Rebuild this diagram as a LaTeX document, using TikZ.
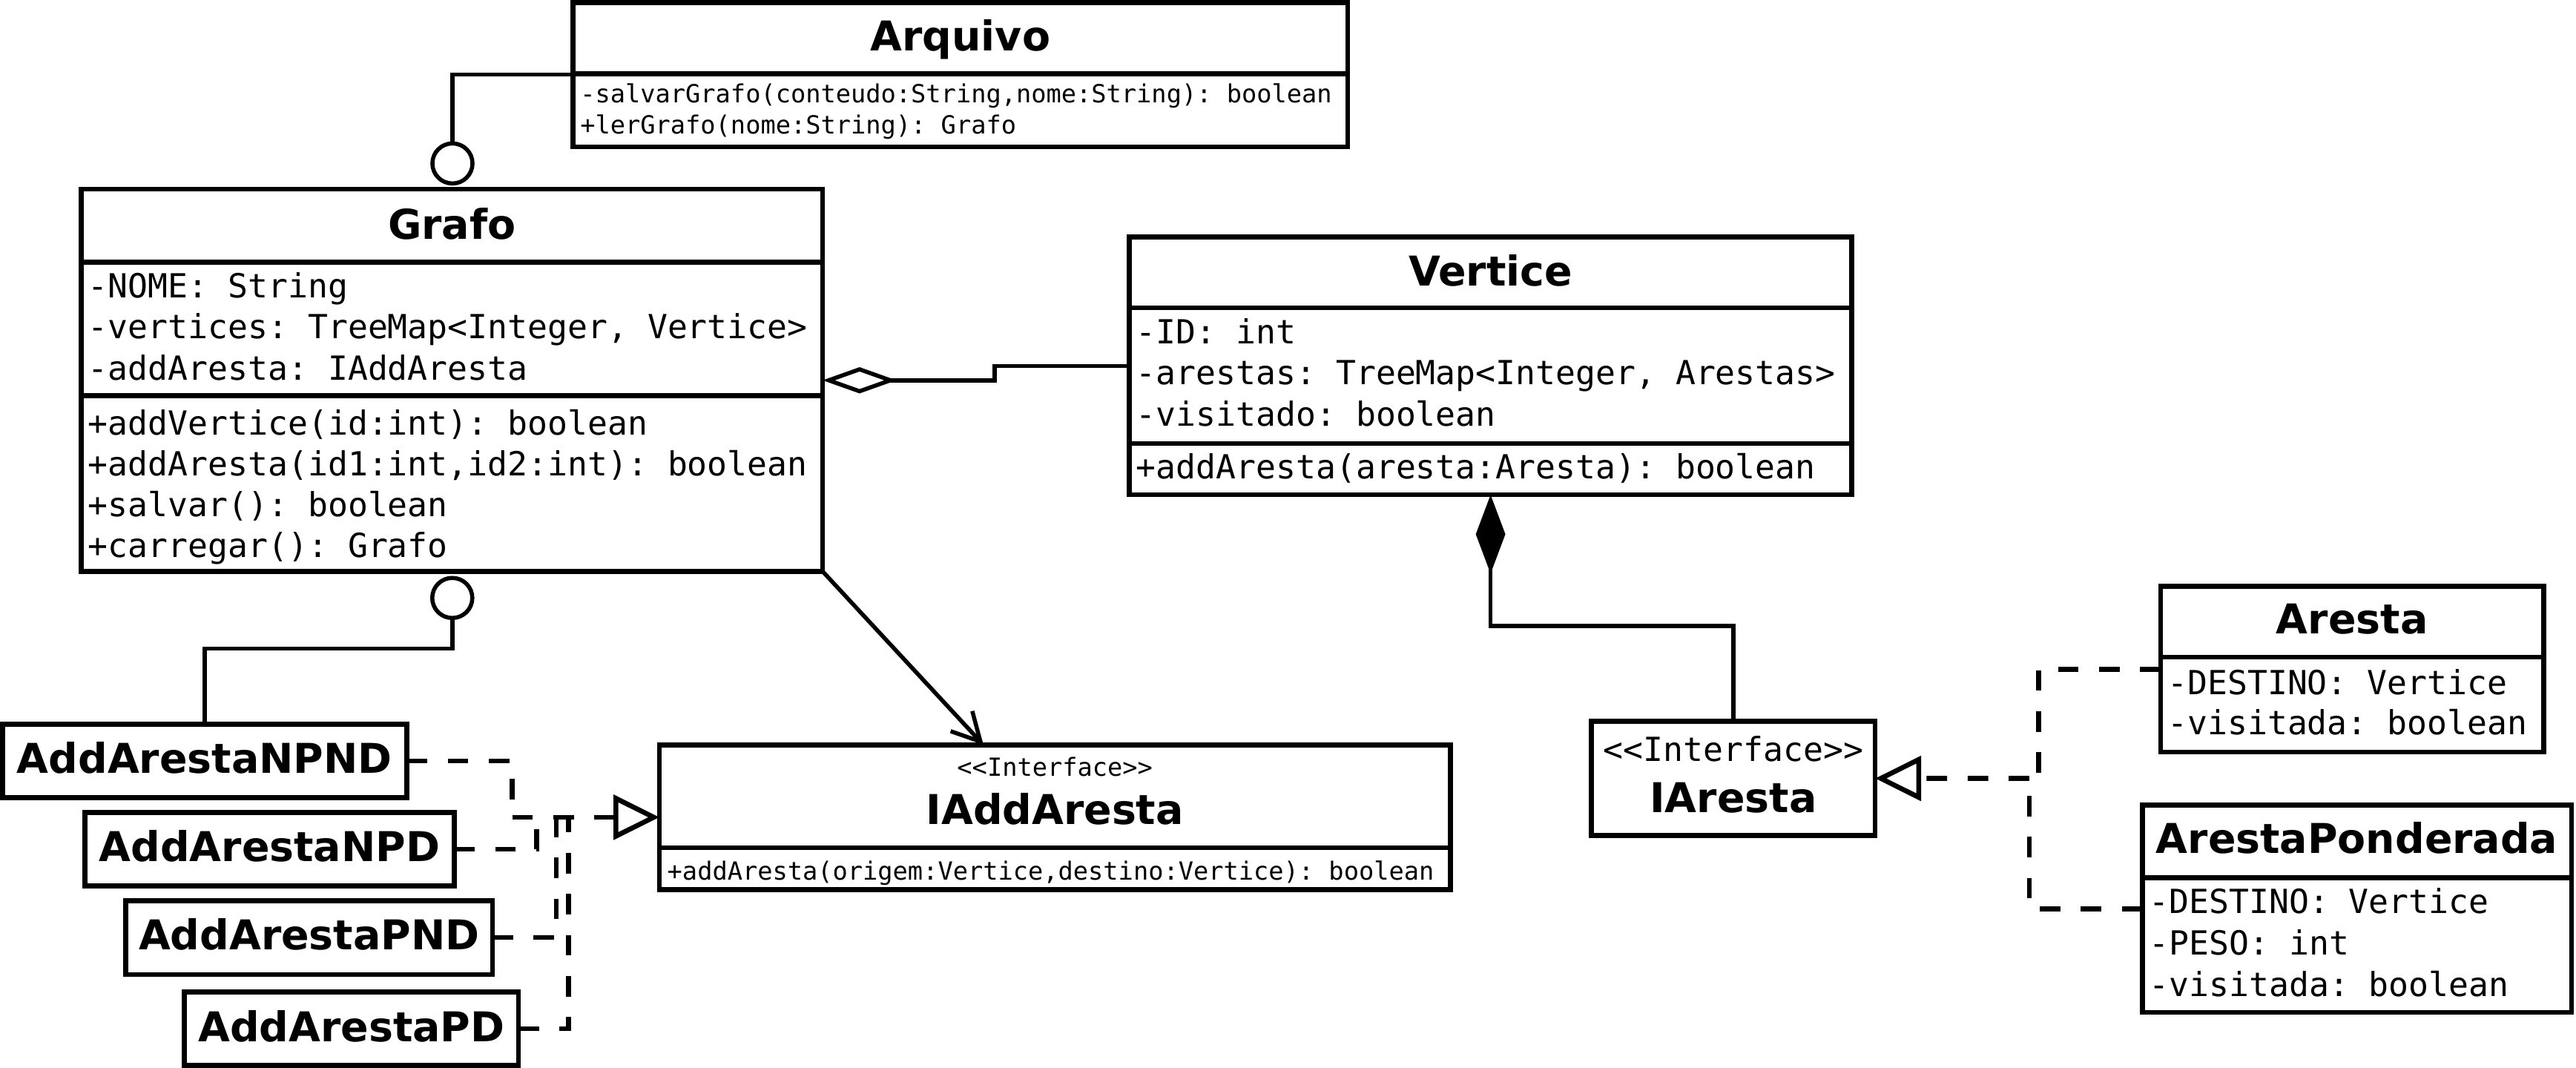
\documentclass[tikz,border=0pt]{standalone}
\usepackage{fontspec}
\setmainfont{DejaVu Sans}
\setmonofont{DejaVu Sans Mono}
\usetikzlibrary{arrows.meta}
\tikzset{
  box/.style={draw, line width=3pt, rectangle, inner sep=0pt, outer sep=0pt, anchor=north west},
  divider/.style={line width=3pt},
  title/.style={font=\fontsize{25}{30}\selectfont\bfseries, inner sep=0pt, anchor=base},
  mono/.style={font=\fontsize{20.2}{24}\selectfont\ttfamily, inner sep=0pt, anchor=base west},
  monoc/.style={font=\fontsize{20.2}{24}\selectfont\ttfamily, inner sep=0pt, anchor=base},
  monosm/.style={font=\fontsize{15.2}{18}\selectfont\ttfamily, inner sep=0pt, anchor=base west},
  monosmb/.style={font=\fontsize{15.2}{18}\selectfont\ttfamily, inner sep=0pt, anchor=base west},
  monosmc/.style={font=\fontsize{15.2}{18}\selectfont\ttfamily, inner sep=0pt, anchor=base},
  conn/.style={line width=2.5pt},
  real/.style={line width=3pt, dash pattern=on 12.5pt off 12.5pt},
  lolli/.style={draw, circle, line width=2.5pt, minimum size=24.4pt, inner sep=0pt, outer sep=0pt, fill=white},
}
\newcommand\umlbox[5]{\node[box, minimum width={#4pt-#2pt}, minimum height={#5pt-#3pt}] (#1) at (#2,#3) {};}
\begin{document}
\begin{tikzpicture}[x=1pt,y=-1pt]
\useasboundingbox (0,0) rectangle (1568,650.13);

% ---------- Arquivo
\umlbox{Arquivo}{348.9}{1.5}{820.3}{89.4}
\draw[divider] (348.9,44.9) -- (820.3,44.9);
\node[title] (tArq) at (584.6,31.1) {Arquivo};
\node[monosm] (aArq1) at (353,62.5) {-salvarGrafo(conteudo:String,nome:String): boolean};
\node[monosm] (aArq2) at (353,81.3) {+lerGrafo(nome:String): Grafo};

% ---------- Grafo
\umlbox{Grafo}{49.5}{115.2}{500.7}{347.8}
\draw[divider] (49.5,159.5) -- (500.7,159.5);
\draw[divider] (49.5,240.8) -- (500.7,240.8);
\node[title] (tGr) at (275.1,145.7) {Grafo};
\node[mono] (aGr1) at (53.5,181.3) {-NOME: String};
\node[mono] (aGr2) at (53.5,206.2) {-vertices: TreeMap<Integer, Vertice>};
\node[mono] (aGr3) at (53.5,231.5) {-addAresta: IAddAresta};
\node[mono] (mGr1) at (53.5,264.9) {+addVertice(id:int): boolean};
\node[mono] (mGr2) at (53.5,289.7) {+addAresta(id1:int,id2:int): boolean};
\node[mono] (mGr3) at (53.5,314.5) {+salvar(): boolean};
\node[mono] (mGr4) at (53.5,339.4) {+carregar(): Grafo};

% ---------- Vertice
\umlbox{Vertice}{687.4}{144.3}{1127.2}{301.2}
\draw[divider] (687.4,187.3) -- (1127.2,187.3);
\draw[divider] (687.4,270) -- (1127.2,270);
\node[title] (tVe) at (907.3,174.2) {Vertice};
\node[mono] (aVe1) at (691.4,209.3) {-ID: int};
\node[mono] (aVe2) at (691.4,233.9) {-arestas: TreeMap<Integer, Arestas>};
\node[mono] (aVe3) at (691.4,259.5) {-visitado: boolean};
\node[mono] (mVe1) at (691.4,291.4) {+addAresta(aresta:Aresta): boolean};

% ---------- IAddAresta
\umlbox{IAddAresta}{401.4}{453.4}{882.8}{541.6}
\draw[divider] (401.4,516) -- (882.8,516);
\node[monosmc] (sIAA) at (642.1,472.6) {<<Interface>>};
\node[title] (tIAA) at (642.1,501.9) {IAddAresta};
\node[monosmb] (mIAA) at (406,535.8) {+addAresta(origem:Vertice,destino:Vertice): boolean};

% ---------- IAresta
\umlbox{IAresta}{968.7}{439}{1141.4}{508.7}
\node[monoc] (sIA) at (1055.05,463.5) {<<Interface>>};
\node[title] (tIA) at (1055.05,494.4) {IAresta};

% ---------- Aresta
\umlbox{Aresta}{1315.2}{357}{1548.2}{457.8}
\draw[divider] (1315.2,400) -- (1548.2,400);
\node[title] (tAr) at (1431.7,385.6) {Aresta};
\node[mono] (aAr1) at (1319.2,422.7) {-DESTINO: Vertice};
\node[mono] (aAr2) at (1319.2,447.3) {-visitada: boolean};

% ---------- ArestaPonderada
\umlbox{ArestaPonderada}{1304}{490}{1565.2}{616.3}
\draw[divider] (1304,534.3) -- (1565.2,534.3);
\node[title] (tAP) at (1434.6,519.5) {ArestaPonderada};
\node[mono] (aAP1) at (1308,556.2) {-DESTINO: Vertice};
\node[mono] (aAP2) at (1308,581.2) {-PESO: int};
\node[mono] (aAP3) at (1308,606.5) {-visitada: boolean};

% ---------- AddAresta implementations
\umlbox{NPND}{1.5}{440.9}{247.6}{485.6}
\node[title] (tNPND) at (124.55,470.7) {AddArestaNPND};
\umlbox{NPD}{51.8}{494.6}{276.4}{539.3}
\node[title] (tNPD) at (164.1,524.4) {AddArestaNPD};
\umlbox{PND}{76.6}{548.2}{299.8}{593.2}
\node[title] (tPND) at (188.2,578) {AddArestaPND};
\umlbox{PD}{112.3}{603.9}{315.6}{648.5}
\node[title] (tPD) at (213.95,633.9) {AddArestaPD};

% ---------- lollipops
\node[lolli] (l1) at (275.4,99.5) {};
\node[lolli] (l2) at (275.3,364) {};
\draw[conn] (Arquivo.west) -| (l1.north);
\draw[conn] (l2.south) -- ++(0,18.6) -| (NPND.north);

% ---------- aggregation Grafo <>-- Vertice
\draw[conn, -{Diamond[open, length=45pt, width=16pt]}] (Vertice.west) -- ++(-82,0) |- (Grafo.east);

% ---------- composition Vertice <#>-- IAresta
\draw[conn, -{Diamond[length=48pt, width=18pt]}] (IAresta.north) -- ++(0,-58) -| (Vertice.south);

% ---------- association Grafo -> IAddAresta
\draw[conn, -{Straight Barb[length=17pt, width=18pt]}] (Grafo.south east) -- ([xshift=197.2pt]IAddAresta.north west);

% ---------- realizations to IAddAresta
\coordinate (j1) at (311.8,497.5);
\coordinate (j2) at (326.5,497.5);
\coordinate (j3) at (338.6,497.5);
\coordinate (j4) at (346.1,497.5);
\draw[real] (NPND.east) -| (j1);
\draw[real] (NPD.east) -| (j2);
\draw[real] (PND.east) -| (j3);
\draw[real] (PD.east) -| (j4);
\draw[real, -{Triangle[open, length=28pt, width=27pt]}] (j1) -- (IAddAresta.west);

% ---------- realizations to IAresta
\coordinate (jr1) at (1240.8,473.85);
\coordinate (jr2) at (1235.2,473.85);
\draw[real] (Aresta.west) -| (jr1);
\draw[real] (ArestaPonderada.west) -| (jr2);
\draw[real, -{Triangle[open, length=28pt, width=27pt]}] (jr2) -- (IAresta.east);
\end{tikzpicture}
\end{document}
